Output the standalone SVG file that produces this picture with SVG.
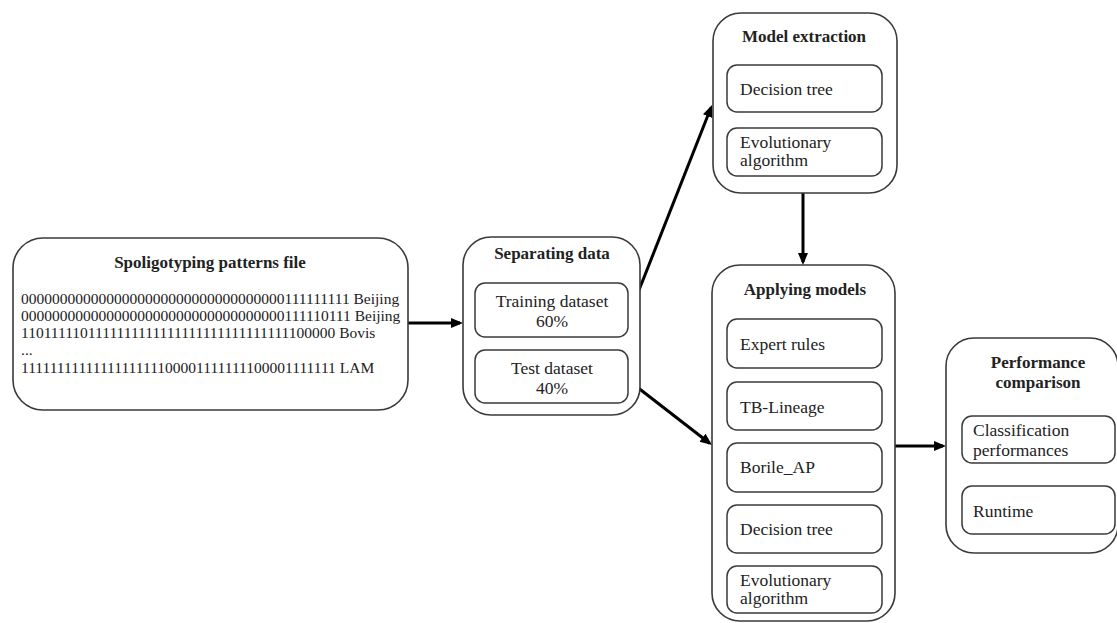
<svg xmlns="http://www.w3.org/2000/svg" width="1117" height="623" viewBox="0 0 1117 623">
<style>
.box{fill:#fff;stroke:#3a3a3a;stroke-width:1.6}
.ibox{fill:#fff;stroke:#3a3a3a;stroke-width:1.5}
.t{font-family:"Liberation Serif","Times New Roman",serif;font-size:17.5px;fill:#222}
.b{font-family:"Liberation Serif","Times New Roman",serif;font-size:17px;font-weight:bold;fill:#222;text-anchor:middle}
.c{text-anchor:middle}
.p{font-family:"Liberation Serif","Times New Roman",serif;font-size:15.5px;fill:#222}
.conn{stroke:#000;stroke-width:3;fill:none;marker-end:url(#ah)}
</style>
<defs>
<marker id="ah" markerUnits="userSpaceOnUse" markerWidth="13" markerHeight="11" refX="9" refY="5" orient="auto">
<path d="M0,0 L12,5 L0,10 z" fill="#000"/>
</marker>
</defs>
<rect width="1117" height="623" fill="#fff"/>

<g id="connectors">
<line class="conn" x1="408" y1="323" x2="460" y2="323"/>
<line class="conn" x1="628" y1="318" x2="710.9" y2="107.8"/>
<line class="conn" x1="628" y1="380" x2="709.6" y2="443.2"/>
<line class="conn" x1="803" y1="193" x2="803" y2="262"/>
<line class="conn" x1="895" y1="446" x2="943" y2="446"/>
</g>

<g id="spoligotyping">
<rect class="box" x="13" y="238" width="395" height="172" rx="30"/>
<text class="b" x="210" y="268">Spoligotyping patterns file</text>
<text class="p" x="21" y="304">0000000000000000000000000000000000111111111 Beijing</text>
<text class="p" x="21" y="321">0000000000000000000000000000000000111110111 Beijing</text>
<text class="p" x="21" y="338">1101111101111111111111111111111111111100000 Bovis</text>
<text class="p" x="21" y="355">...</text>
<text class="p" x="21" y="373">1111111111111111111100001111111100001111111 LAM</text>
</g>

<g id="separating">
<rect class="box" x="463" y="237" width="177" height="178" rx="28"/>
<text class="b" x="552" y="259">Separating data</text>
<g id="training">
<rect class="ibox" x="475" y="283" width="153" height="54" rx="10"/>
<text class="t c" x="552" y="307">Training dataset</text>
<text class="t c" x="552" y="327">60%</text>
</g>
<g id="test">
<rect class="ibox" x="475" y="350" width="153" height="53" rx="10"/>
<text class="t c" x="552" y="374">Test dataset</text>
<text class="t c" x="552" y="394">40%</text>
</g>
</g>

<g id="model-extraction">
<rect class="box" x="713" y="13" width="184" height="180" rx="28"/>
<text class="b" x="804" y="42">Model extraction</text>
<g id="me-dt">
<rect class="ibox" x="727" y="65" width="155" height="47" rx="10"/>
<text class="t" x="740" y="95">Decision tree</text>
</g>
<g id="me-ea">
<rect class="ibox" x="727" y="128" width="155" height="48" rx="10"/>
<text class="t" x="740" y="148">Evolutionary</text>
<text class="t" x="740" y="166">algorithm</text>
</g>
</g>

<g id="applying">
<rect class="box" x="712" y="265" width="183" height="356" rx="28"/>
<text class="b" x="805" y="295">Applying models</text>
<g id="am-er">
<rect class="ibox" x="727" y="319" width="155" height="49" rx="10"/>
<text class="t" x="740" y="350">Expert rules</text>
</g>
<g id="am-tb">
<rect class="ibox" x="727" y="382" width="155" height="48" rx="10"/>
<text class="t" x="740" y="413">TB-Lineage</text>
</g>
<g id="am-ba">
<rect class="ibox" x="727" y="443" width="155" height="49" rx="10"/>
<text class="t" x="740" y="473">Borile_AP</text>
</g>
<g id="am-dt">
<rect class="ibox" x="727" y="505" width="155" height="48" rx="10"/>
<text class="t" x="740" y="535">Decision tree</text>
</g>
<g id="am-ea">
<rect class="ibox" x="727" y="566" width="155" height="47" rx="10"/>
<text class="t" x="740" y="586">Evolutionary</text>
<text class="t" x="740" y="604">algorithm</text>
</g>
</g>

<g id="performance">
<rect class="box" x="946" y="338" width="172" height="215" rx="28"/>
<text class="b" x="1038" y="368">Performance</text>
<text class="b" x="1038" y="388">comparison</text>
<g id="pc-cp">
<rect class="ibox" x="962" y="416" width="153" height="47" rx="10"/>
<text class="t" x="973" y="436">Classification</text>
<text class="t" x="973" y="456">performances</text>
</g>
<g id="pc-rt">
<rect class="ibox" x="962" y="486" width="153" height="48" rx="10"/>
<text class="t" x="973" y="517">Runtime</text>
</g>
</g>
</svg>
